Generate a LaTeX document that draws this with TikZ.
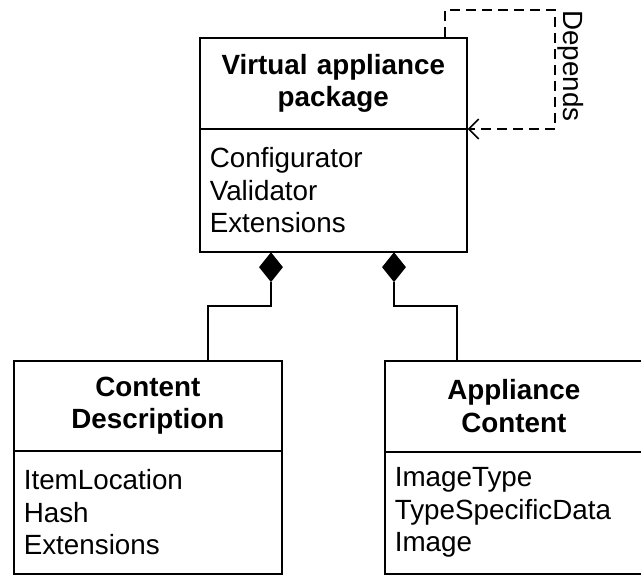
\documentclass[tikz,border=0pt]{standalone}
\usepackage{fontspec}
\setmainfont{Liberation Sans}
\usetikzlibrary{shapes.geometric,arrows.meta}
\begin{document}
\begin{tikzpicture}[x=1pt,y=-1pt,
  txt/.style={font=\fontsize{27.8}{32.5}\selectfont},
  boxhead/.style={txt, draw, line width=1.6pt, rectangle, anchor=north west, align=center, inner xsep=10pt, inner ysep=0pt},
  boxbody/.style={txt, draw, line width=1.6pt, rectangle, anchor=north west, align=left, inner xsep=10pt, inner ysep=0pt},
  compo/.style={diamond, fill=black, draw=none, inner sep=0pt, minimum width=24pt, minimum height=30pt, anchor=north},
  link/.style={line width=1.6pt},
  deplink/.style={line width=1.6pt, dash pattern=on 10pt off 6pt, -{Straight Barb[length=10pt,width=20pt,line width=1.6pt]}}
]
\useasboundingbox (0,0) rectangle (641,574);
% top class
\node[boxhead, text width=247pt, minimum height=91pt] (vah) at (199,37) {\textbf{Virtual appliance}\\\textbf{package}};
\node[boxbody, text width=247pt, minimum height=123pt] (vab) at (199,128) {Configurator\\Validator\\Extensions};
% bottom left class
\node[boxhead, text width=248pt, minimum height=90pt] (cdh) at (13,360) {\textbf{Content}\\\textbf{Description}};
\node[boxbody, text width=248pt, minimum height=123pt] (cdb) at (13,450) {ItemLocation\\Hash\\Extensions};
% bottom right class
\node[boxhead, text width=238pt, minimum height=91pt] (ach) at (384,360) {\textbf{Appliance}\\\textbf{Content}};
\node[boxbody, text width=238pt, minimum height=122pt] (acb) at (384,451) {ImageType\\TypeSpecificData\\Image};
% composition diamonds
\node[compo] (d1) at (271,252) {};
\node[compo] (d2) at (394,252) {};
% connectors
\coordinate (j1) at (271,306);
\coordinate (j2) at (208,306);
\coordinate (k1) at (394,306);
\coordinate (k2) at (457,306);
\draw[link] (d1.south) -- (j1) -- (j2) -- (j2 |- cdh.north);
\draw[link] (d2.south) -- (k1) -- (k2) -- (k2 |- ach.north);
% self dependency
\coordinate (s0) at (445,37);
\coordinate (s1) at (445,10);
\coordinate (s2) at (555,10);
\coordinate (s3) at (555,129);
\draw[deplink] (s0 |- vah.north) -- (s1) -- (s2) -- (s3) -- (s3 -| vah.east);
\node[txt, rotate=-90] (dep) at (571,66) {Depends};
\end{tikzpicture}
\end{document}
